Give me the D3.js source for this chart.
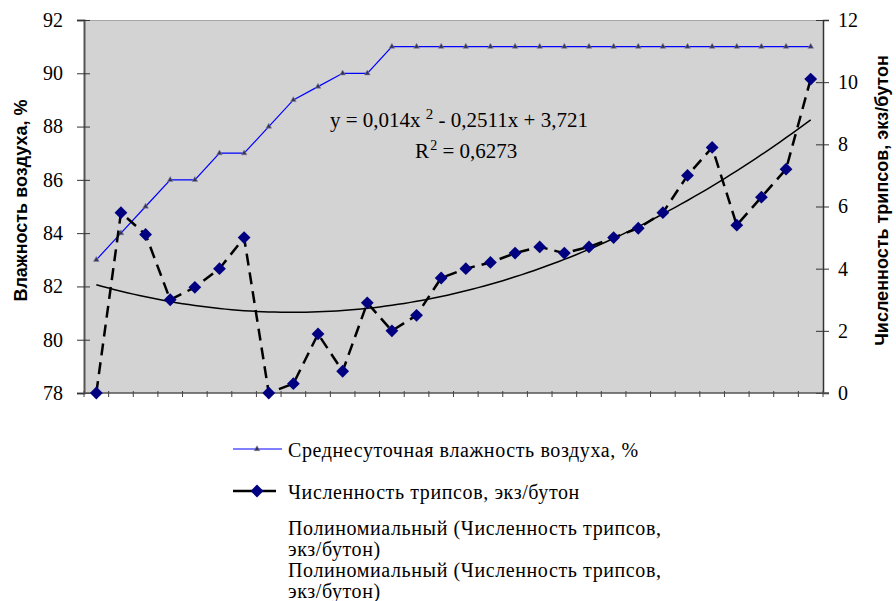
<!DOCTYPE html>
<html>
<head>
<meta charset="utf-8">
<script src="https://cdn.jsdelivr.net/npm/d3@7/dist/d3.min.js"></script>
<style>
  html, body { margin: 0; padding: 0; background: #fff; }
  svg { display: block; }
</style>
</head>
<body>
<svg id="chart" width="896" height="601"></svg>
<script>
// ---- data ----
const days = d3.range(1, 31);
const humidity = [83, 84, 85, 86, 86, 87, 87, 88, 89, 89.5, 90, 90, 91, 91, 91, 91, 91, 91, 91, 91, 91, 91, 91, 91, 91, 91, 91, 91, 91, 91];
const thrips = [0, 5.8, 5.1, 3.0, 3.4, 4.0, 5.0, 0, 0.3, 1.9, 0.7, 2.9, 2.0, 2.5, 3.7, 4.0, 4.2, 4.5, 4.7, 4.5, 4.7, 5.0, 5.3, 5.8, 7.0, 7.9, 5.4, 6.3, 7.2, 10.1];
const trendCoef = [0.014, -0.2511, 3.721]; // a, b, c of y = a x^2 + b x + c
const r2 = 0.6273;
const leftTicks = [78, 80, 82, 84, 86, 88, 90, 92];
const rightTicks = [0, 2, 4, 6, 8, 10, 12];
const leftTitle = "Влажность воздуха, %";
const rightTitle = "Численность трипсов, экз/бутон";
const legendItems = [
  "Среднесуточная влажность воздуха, %",
  "Численность трипсов, экз/бутон",
  "Полиномиальный (Численность трипсов,|экз/бутон)",
  "Полиномиальный (Численность трипсов,|экз/бутон)"
];

// ---- layout ----
const svg = d3.select("#chart");
const L = 84, T = 20, R = 823, B = 393;
const serif = "'Liberation Serif', 'Times New Roman', serif";
const sans = "'Liberation Sans', Arial, sans-serif";

const x = d3.scaleBand().domain(days).range([L, R]).padding(0);
const bw = x.bandwidth();
const cx = d => x(d) + bw / 2;
const yL = d3.scaleLinear().domain([78, 92]).range([B, T]);
const yR = d3.scaleLinear().domain([0, 12]).range([B, T]);

// plot background
svg.append("rect").attr("x", L).attr("y", T).attr("width", R - L).attr("height", B - T)
  .attr("fill", "#d3d3d3");
svg.append("line").attr("x1", L).attr("x2", R).attr("y1", T + 0.5).attr("y2", T + 0.5)
  .attr("stroke", "#a6a6a6").attr("stroke-width", 1);

// left axis
const gL = svg.append("g").attr("transform", `translate(${L},0)`)
  .call(d3.axisLeft(yL).tickValues(leftTicks).tickSize(7).tickPadding(14));
gL.select(".domain").attr("stroke", "#555").attr("stroke-width", 2);
gL.selectAll(".tick line").attr("x2", 6).attr("x1", -7).attr("stroke", "#333");
gL.selectAll(".tick text").attr("font-family", serif).attr("font-size", 20).attr("fill", "#000")
  .attr("x", -21);

// right axis
const gR = svg.append("g").attr("transform", `translate(${R},0)`)
  .call(d3.axisRight(yR).tickValues(rightTicks).tickSize(6).tickPadding(14));
gR.select(".domain").attr("stroke", "#333").attr("stroke-width", 1.5);
gR.selectAll(".tick line").attr("x1", -7).attr("x2", 6).attr("stroke", "#333");
gR.selectAll(".tick text").attr("font-family", serif).attr("font-size", 20).attr("fill", "#000")
  .attr("x", 15);

// bottom axis (category ticks between categories)
const gB = svg.append("g");
gB.append("line").attr("x1", L).attr("x2", R + 6).attr("y1", B).attr("y2", B)
  .attr("stroke", "#555").attr("stroke-width", 1.5);
gB.selectAll("line.tk").data(days.concat([null])).join("line").attr("class", "tk")
  .attr("x1", d => d === null ? R : x(d)).attr("x2", d => d === null ? R : x(d))
  .attr("y1", B - 2).attr("y2", B + 4).attr("stroke", "#444").attr("stroke-width", 1);

// humidity line
svg.append("path").datum(days)
  .attr("d", d3.line().x(d => cx(d)).y((d, i) => yL(humidity[i])))
  .attr("fill", "none").attr("stroke", "#0000ff").attr("stroke-width", 1.2);
const tri = d3.symbol().type(d3.symbolTriangle).size(14);
svg.selectAll("path.tri").data(days).join("path").attr("class", "tri")
  .attr("d", tri).attr("transform", (d, i) => `translate(${cx(d)},${yL(humidity[i])})`)
  .attr("fill", "#333355").attr("stroke", "#8888aa").attr("stroke-width", 0.6);

// trendline (polynomial, order 2) from displayed coefficients
const xt = d3.scaleLinear().domain([1, 30]).range([cx(1), cx(30)]);
const tpts = d3.range(1, 30.01, 0.25);
svg.append("path").datum(tpts)
  .attr("d", d3.line().x(t => xt(t)).y(t => yR(trendCoef[0] * t * t + trendCoef[1] * t + trendCoef[2])))
  .attr("fill", "none").attr("stroke", "#000").attr("stroke-width", 1.5);

// thrips dashed line
svg.append("path").datum(days)
  .attr("d", d3.line().x(d => cx(d)).y((d, i) => yR(thrips[i])))
  .attr("fill", "none").attr("stroke", "#000").attr("stroke-width", 2.5)
  .attr("stroke-dasharray", "12,7");
const dia = d3.symbol().type(d3.symbolSquare).size(82);
svg.selectAll("path.dia").data(days).join("path").attr("class", "dia")
  .attr("d", dia).attr("transform", (d, i) => `translate(${cx(d)},${yR(thrips[i])}) rotate(45)`)
  .attr("fill", "#000080");

// equation label
const fmt = v => String(v).replace(".", ",");
const eq = svg.append("text").attr("font-family", serif).attr("font-size", 21).attr("fill", "#000")
  .attr("x", 330).attr("y", 127);
eq.append("tspan").text(`y = ${fmt(trendCoef[0])}x `);
eq.append("tspan").attr("font-size", 15).attr("dy", -8).text("2");
eq.append("tspan").attr("dy", 8).text(` - ${fmt(Math.abs(trendCoef[1]))}x + ${fmt(trendCoef[2])}`);
const rt = svg.append("text").attr("font-family", serif).attr("font-size", 21).attr("fill", "#000")
  .attr("x", 415).attr("y", 158);
rt.append("tspan").text("R ");
rt.append("tspan").attr("font-size", 14).attr("dy", -8).attr("dx", -4).text("2");
rt.append("tspan").attr("dy", 8).text(` = ${fmt(r2)}`);

// axis titles
svg.append("text").attr("transform", `translate(27,${(T + B) / 2 - 6}) rotate(-90)`)
  .attr("text-anchor", "middle").attr("font-family", sans).attr("font-weight", "bold")
  .attr("font-size", 18).text(leftTitle);
svg.append("text").attr("transform", `translate(888,${(T + B) / 2 - 6}) rotate(-90)`)
  .attr("text-anchor", "middle").attr("font-family", sans).attr("font-weight", "bold")
  .attr("font-size", 18).text(rightTitle);

// legend
const lg = svg.append("g").attr("font-family", serif).attr("font-size", 20)
  .attr("letter-spacing", 0.6).attr("fill", "#000");
lg.append("line").attr("x1", 233).attr("x2", 282).attr("y1", 449).attr("y2", 449)
  .attr("stroke", "#0000ff").attr("stroke-width", 1.2);
lg.append("path").attr("d", tri).attr("transform", "translate(257,449)")
  .attr("fill", "#333355").attr("stroke", "#8888aa").attr("stroke-width", 0.6);
lg.append("line").attr("x1", 233).attr("x2", 276).attr("y1", 491).attr("y2", 491)
  .attr("stroke", "#000").attr("stroke-width", 2.5);
lg.append("path").attr("d", dia).attr("transform", "translate(257,491) rotate(45)")
  .attr("fill", "#000080");
const ly = [[450], [492], [528, 549], [570, 591]];
legendItems.forEach((s, i) => {
  s.split("|").forEach((part, j) => {
    lg.append("text").attr("x", 288).attr("y", ly[i][j]).attr("dominant-baseline", "central").text(part);
  });
});
</script>
</body>
</html>
